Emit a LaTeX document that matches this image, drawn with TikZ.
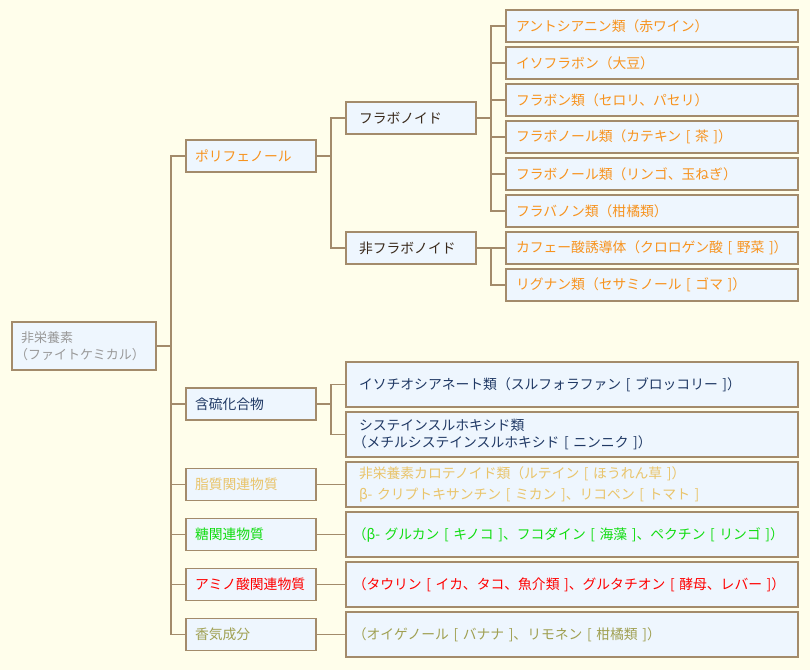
\documentclass[tikz,border=0pt]{standalone}
\usepackage{fontspec}
\setmainfont{Noto Sans CJK JP}
\usetikzlibrary{positioning}
\definecolor{PBg}{HTML}{FFFEEB}
\definecolor{PFill}{HTML}{EEF6FE}
\definecolor{PLine}{HTML}{A38B6B}
\definecolor{PGray}{HTML}{999999}
\definecolor{POrange}{HTML}{F7931E}
\definecolor{PNavy}{HTML}{1F3864}
\definecolor{PBrown}{HTML}{3A2A1C}
\definecolor{PGold}{HTML}{E9C46A}
\definecolor{PGreen}{HTML}{11DD11}
\definecolor{PRed}{HTML}{FF0000}
\definecolor{POlive}{HTML}{A0A052}
\newcommand\openparen{\leavevmode\kern-0.45em（}

\begin{document}
\begin{tikzpicture}[x=1pt, y=-1pt,
  every node/.style={font=\fontsize{13.8pt}{17pt}\selectfont},
  box/.style    ={draw=PLine, fill=PFill, line width=1.3pt, outer sep=0pt, inner ysep=0pt,
                  align=left, anchor=north west},
  rootbox/.style={box, text width=126pt, inner xsep=9pt, minimum height=48pt, text=PGray,
                  font=\fontsize{13pt}{17pt}\selectfont},
  catbox/.style ={box, text width=112pt, inner xsep=9pt, minimum height=32pt},
  subbox/.style ={box, text width=104pt, inner xsep=13pt, minimum height=32pt, text=PBrown},
  leaf/.style   ={box, text width=272pt, inner xsep=10pt, minimum height=32pt, text=POrange},
  wide/.style   ={box, text width=426pt, inner xsep=13pt, minimum height=45pt},
  link/.style   ={draw=PLine, line width=1.3pt},
]
\fill[PBg] (0,0) rectangle (810,670);
\useasboundingbox (0,0) rectangle (810,670);
\node[rootbox] (root) at (12,322) {非栄養素\\\openparen ファイトケミカル）};
\node[catbox, text=POrange] (poly) at (186,140) {ポリフェノール};
\node[subbox] (flav) at (346,102) {フラボノイド};
\node[leaf] (l1) at (506,10) {アントシアニン類（赤ワイン）};
\node[leaf, below=5pt of l1] (l2) {イソフラボン（大豆）};
\node[leaf, below=5pt of l2] (l3) {フラボン類（セロリ、パセリ）};
\node[leaf, below=5pt of l3] (l4) {フラボノール類（カテキン [ 茶 ]）};
\node[leaf, below=5pt of l4] (l5) {フラボノール類（リンゴ、玉ねぎ）};
\node[leaf, below=5pt of l5] (l6) {フラバノン類（柑橘類）};
\node[leaf, below=5pt of l6] (l7) {カフェー酸誘導体（クロロゲン酸 [ 野菜 ]）};
\node[leaf, below=5pt of l7] (l8) {リグナン類（セサミノール [ ゴマ ]）};
\node[subbox, left=30pt of l7] (nonflav) {非フラボノイド};
\node[wide, text=PNavy] (w1) at (346,362) {イソチオシアネート類（スルフォラファン [ ブロッコリー ]）};
\node[wide, text=PNavy, below=5pt of w1] (w2) {システインスルホキシド類\\\openparen メチルシステインスルホキシド [ ニンニク ]）};
\node[wide, text=PGold, below=5pt of w2] (w3) {非栄養素カロテノイド類（ルテイン [ ほうれん草 ]）\\[4pt]β- クリプトキサンチン [ ミカン ]、リコペン [ トマト ]};
\node[wide, text=PGreen, below=5pt of w3] (w4) {\mbox{\openparen β- グルカン [ キノコ ]、フコダイン [ 海藻 ]、ペクチン [ リンゴ ]）}};
\node[wide, text=PRed, below=5pt of w4] (w5) {\mbox{\openparen タウリン [ イカ、タコ、魚介類 ]、グルタチオン [ 酵母、レバー ]）}};
\node[wide, text=POlive, below=5pt of w5] (w6) {\openparen オイゲノール [ バナナ ]、リモネン [ 柑橘類 ]）};
\node[catbox, text=PNavy] (sulf) at (186,388) {含硫化合物};
\node[catbox, text=PGold, left=30pt of w3] (lipid) {脂質関連物質};
\node[catbox, text=PGreen, left=30pt of w4] (sugar) {糖関連物質};
\node[catbox, text=PRed, left=30pt of w5] (amino) {アミノ酸関連物質};
\node[catbox, text=POlive, left=30pt of w6] (aroma) {香気成分};
\foreach \p/\c in {root/poly, root/sulf, root/lipid, root/sugar, root/amino, root/aroma,
                   poly/flav, poly/nonflav, flav/l1, flav/l2, flav/l3, flav/l4, flav/l5, flav/l6,
                   nonflav/l7, nonflav/l8, sulf/w1, sulf/w2, lipid/w3, sugar/w4, amino/w5, aroma/w6}
  {\draw[link] (\p.east) -- ++(15,0) |- (\c.west);}
\end{tikzpicture}
\end{document}
